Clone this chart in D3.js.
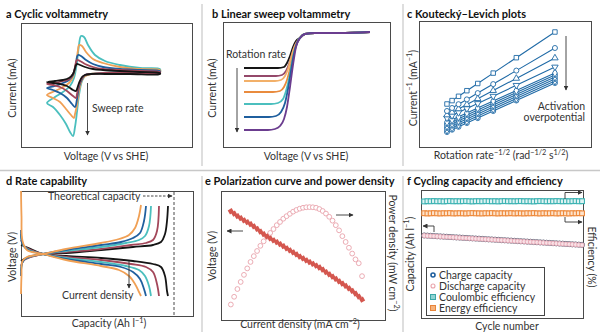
<!DOCTYPE html>
<html><head><meta charset="utf-8">
<script src="https://cdn.jsdelivr.net/npm/d3@7"></script>
<style>body{margin:0;background:#fff} text{font-family:Lato,"Open Sans",sans-serif}</style>
</head><body><svg id="c" width="600" height="336"></svg>
<script>
// ---------- DATA ----------
// a: cyclic voltammetry loops [voltage, current] (arbitrary units)
const cvTeal   = [[26,44],[34,50],[42,55],[49,61],[53,69],[56,85],[58,102],[60,111],[63,110],[67,102],[74,92],[84,86],[99,82],[119,79],[139,78],[139,76],[109,75],[84,74],[70,73],[64,71],[61,66],[58,52],[56,35],[54,20],[52,11],[49,15],[45,23],[39,32],[32,40]];
const cvOrange = [[26,52],[34,56],[42,60],[48,64],[52,70],[55,84],[57,97],[58,102],[61,101],[65,95],[72,88],[82,84],[99,80],[119,78],[139,77],[139,75],[109,75],[84,74],[70,73],[64,71],[61,67],[58,56],[56,42],[54,33],[53,29],[50,32],[45,38],[39,45],[32,49]];
const cvBlue   = [[26,59],[34,61],[42,64],[48,67],[52,72],[55,83],[56,90],[57,92],[60,91],[65,87],[72,83],[82,80],[99,78],[119,77],[139,76],[139,75],[109,75],[84,74],[70,73],[64,72],[61,68],[58,60],[56,48],[54,40],[51,43],[46,49],[39,54],[32,57]];
const cvMaroon = [[26,63],[34,64],[42,66],[48,68],[52,73],[54,80],[55,85],[56,87],[59,86],[64,83],[72,80],[82,78],[99,77],[119,76],[139,75],[139,74],[109,74],[84,74],[70,73],[64,72],[61,69],[58,62],[56,53],[55,49],[52,51],[46,56],[39,60],[32,62]];
const cvBlack  = [[26,65],[34,66],[42,67],[48,69],[52,73],[54,79],[55,82],[56,83],[59,82],[64,80],[72,78],[82,77],[99,76],[119,75],[139,74],[139,73],[109,73],[84,73],[70,73],[64,72],[61,70],[58,64],[56,58],[55,56],[52,57],[46,61],[39,63],[32,64]];

// b: linear sweep voltammetry [voltage, current]
const lsvBlack    = [[21,79],[55,79],[61,80],[64,84],[67,91],[70,100],[73,106],[77,109],[82,113],[92,114],[117,114],[147,115]];
const lsvMaroon   = [[21,71],[53,71],[59,72],[63,76],[66,83],[69,93],[72,102],[75,107],[77,109],[82,113],[92,114],[117,114],[147,115]];
const lsvLtOrange = [[21,66],[52,66],[58,67],[62,71],[65,78],[68,89],[71,99],[74,105],[77,109],[82,113],[92,114],[117,114],[147,115]];
const lsvOrange   = [[21,55],[50,55],[57,56],[61,60],[64,67],[67,78],[70,91],[73,102],[76,108],[82,113],[92,114],[117,114],[147,115]];
const lsvTeal     = [[21,43],[48,43],[55,44],[60,48],[63,56],[66,68],[69,84],[72,98],[75,106],[82,113],[92,114],[117,114],[147,115]];
const lsvBlue     = [[21,30],[46,30],[53,31],[58,35],[62,44],[65,58],[68,76],[71,93],[74,104],[77,109],[82,113],[92,114],[117,114],[147,115]];
const lsvPurple   = [[21,17],[45,17],[52,18],[57,21],[61,28],[64,40],[67,60],[70,82],[73,100],[77,109],[82,113],[92,114],[117,114],[147,115]];

// c: Koutecky-Levich
const klX = [0.0200,0.0222,0.0250,0.0286,0.0333,0.0400,0.0500,0.0667];
const kl1  = [43,46.4,50.7,56.3,63.5,73.9,89.3,115];
const kl2  = [36,39,42.8,47.6,53.9,62.9,76.4,99];
const kl3  = [32,34.7,38.1,42.5,48.3,56.4,68.6,89];
const kl4  = [29,31.4,34.5,38.4,43.5,50.8,61.7,80];
const kl5  = [25,27.3,30.2,34,38.9,46,56.5,74];
const kl6  = [23,25.3,28.2,32,36.9,44,54.5,72];
const kl7  = [21,23.3,26.2,30,34.9,42,52.5,70];
const kl8  = [19,21.3,24.2,28,32.9,40,50.5,68];
const kl9  = [17,19.3,22.2,26,30.9,38,48.5,66];
const kl10 = [15,17.3,20.2,24,28.9,36,46.5,64];

// d: rate capability [capacity, voltage]
const chBlack  = [[0,55],[5,58],[12,60],[22,62],[45,63],[80,66],[112,69],[132,71],[140,74],[144,82],[146,95],[147,110]];
const diBlack  = [[0,71],[5,69],[12,66],[22,62],[45,60],[80,58],[112,55],[132,52],[140,49],[144,40],[146,25],[147,20]];
const chMaroon = [[0,50],[3,56],[10,59],[22,62],[45,64],[80,67],[110,71],[125,73],[132,76],[136,85],[138,110]];
const diMaroon = [[0,76],[3,70],[10,66],[22,62],[45,59],[80,56],[110,52],[125,49],[132,44],[136,32],[138,20]];
const chTeal   = [[0,45],[2,55],[8,59],[22,62],[45,65],[80,69],[105,73],[118,76],[124,80],[128,90],[130,110]];
const diTeal   = [[0,82],[2,71],[8,66],[22,62],[45,58],[80,54],[105,50],[118,46],[124,40],[128,30],[130,20]];
const chBlue   = [[0,40],[1.5,54],[7,59],[22,62],[45,66],[80,71],[100,74],[112,78],[119,83],[123,95],[125,110]];
const diBlue   = [[0,86],[1.5,72],[7,66],[22,62],[45,57],[80,52],[100,49],[112,44],[119,37],[123,27],[125,20]];
const chOrange = [[0,22],[0.5,40],[1.5,55],[6,59],[22,62],[45,67],[80,73],[98,77],[108,81],[114,88],[118,100],[120,111]];
const diOrange = [[0,125],[0.5,100],[1.5,75],[6,66],[22,62],[45,56],[80,50],[98,46],[108,40],[114,32],[118,24],[120,20]];

// e: polarization & power density
const curDens = [6,8,10,12,14,16,18,20,22,24,26,28,30,32,34,36,38,40,42,44,46,48,50,52,54,56,58,60,62,64,66,68,70,72,74,76,78,80,82,84,86];
const voltE   = [84.3,82.4,80.6,78.9,77.3,75.8,74.3,72.6,70.6,68.5,66.6,64.9,63.3,61.8,60.3,58.8,57.2,55.6,54.0,52.4,50.8,49.2,47.7,46.3,44.9,43.5,42.1,40.7,39.0,37.2,35.4,33.6,31.8,30.0,28.2,26.4,24.6,22.6,20.5,18.2,15.8];
const powerE  = [12,18,24,29.5,35,40,45,49.5,53.5,57.5,61,64.5,67.5,70.5,73.5,76,78.5,80.5,82.3,84,85.3,86.3,87,87.4,87.5,87.4,87,86,84.5,82.5,80,77,73.5,69.5,65,60.5,56,51.5,47,44,34];

// f: cycling
const capCharge = [19.34,19.30,19.25,19.21,19.16,19.12,19.07,19.03,18.98,18.94,18.89,18.85,18.80,18.76,18.71,18.67,18.62,18.58,18.53,18.49,18.44,18.40,18.35,18.31,18.26,18.22,18.17,18.13,18.08,18.04,17.99,17.95,17.90,17.86,17.81,17.77,17.72,17.68,17.63,17.59,17.54,17.50,17.45,17.41,17.36,17.32,17.27,17.23,17.18,17.14];
const capDischarge = [19.30,19.26,19.21,19.17,19.12,19.08,19.03,18.99,18.94,18.90,18.85,18.81,18.76,18.72,18.67,18.63,18.58,18.54,18.49,18.45,18.40,18.36,18.31,18.27,18.22,18.18,18.13,18.09,18.04,18.00,17.95,17.91,17.86,17.82,17.77,17.73,17.68,17.64,17.59,17.55,17.50,17.46,17.41,17.37,17.32,17.28,17.23,17.19,17.14,17.10];
const coulEff = [98.8,99.0,98.9,99.1,98.9,99.0,98.8,99.0,99.1,98.9,99.0,98.9,99.0,99.1,98.9,98.8,99.0,99.0,98.9,99.1,99.0,98.9,99.0,98.8,99.0,99.1,98.9,99.0,98.9,99.0,99.1,98.9,99.0,98.9,98.8,99.0,99.1,99.0,98.9,99.0,98.9,99.1,99.0,98.9,99.0,98.9,99.0,99.1,98.9,99.0];
const energyEff = [88.8,88.6,88.7,88.9,88.7,88.6,88.8,88.7,88.9,88.6,88.7,88.8,88.7,88.6,88.8,88.9,88.7,88.7,88.6,88.8,88.7,88.9,88.7,88.6,88.8,88.7,88.7,88.9,88.6,88.8,88.7,88.6,88.8,88.7,88.9,88.7,88.6,88.8,88.7,88.7,88.9,88.6,88.7,88.8,88.7,88.6,88.8,88.7,88.9,88.7];
const legendLabels = ["Charge capacity","Discharge capacity","Coulombic efficiency","Energy efficiency"];

// ---------- DRAW ----------
const svg = d3.select('#c');
const C = {black:'#151515', maroon:'#a3475a', orange:'#f0a055', dorange:'#e98b3e', teal:'#4bbfbe', blue:'#1f5f9e', purple:'#6b3d8f', kl:'#1f6aa6', red:'#d4574f', pink:'#e9a3ab'};

const defs = svg.append('defs');
defs.append('marker').attr('id','ah').attr('viewBox','0 0 10 10').attr('refX',9).attr('refY',5)
  .attr('markerWidth',5).attr('markerHeight',5).attr('markerUnits','userSpaceOnUse').attr('orient','auto')
  .append('path').attr('d','M0,0L10,5L0,10z').attr('fill','#333');

// separators
svg.append('line').attr('x1',0).attr('x2',600).attr('y1',170.5).attr('y2',170.5).attr('stroke','#c8c8c8').attr('stroke-width',1.5);
[[202,4,166],[202,176,332],[403,4,166],[403,176,332]].forEach(l=>svg.append('line').attr('x1',l[0]).attr('x2',l[0]).attr('y1',l[1]).attr('y2',l[2]).attr('stroke','#c8c8c8').attr('stroke-width',1.2));

function frame(x0,y0,x1,y1){svg.append('rect').attr('x',x0+.5).attr('y',y0+.5).attr('width',x1-x0).attr('height',y1-y0).attr('fill','none').attr('stroke','#4a4a4a').attr('stroke-width',1);}
function rich(t,parts,fs){let sup=false;parts.forEach(p=>{const s=p[1]===1;const ts=t.append('tspan').text(p[0]);if(s){ts.attr('font-size',fs*0.7);if(!sup)ts.attr('dy',-fs*0.38);}else if(sup){ts.attr('dy',fs*0.38);}sup=s;});}
function title(x,y,str){svg.append('text').attr('x',x).attr('y',y).attr('font-size',11).attr('font-weight',700).attr('fill','#111').text(str);}
function xlab(cx,y,parts){const t=svg.append('text').attr('x',cx).attr('y',y).attr('text-anchor','middle').attr('font-size',10.5).attr('fill','#333');rich(t,parts,10.5);}
function ylab(cx,cy,parts,rot){const t=svg.append('text').attr('transform',`translate(${cx},${cy}) rotate(${rot||-90})`).attr('text-anchor','middle').attr('dominant-baseline','central').attr('font-size',10.5).attr('fill','#333');rich(t,parts,10.5);}
function note(x,y,str,anchor){svg.append('text').attr('x',x).attr('y',y).attr('text-anchor',anchor||'start').attr('dominant-baseline','central').attr('font-size',10.5).attr('fill','#333').text(str);}
function arrow(d,dash){svg.append('path').attr('d',d).attr('fill','none').attr('stroke','#333').attr('stroke-width',0.9).attr('stroke-dasharray',dash||null).attr('marker-end','url(#ah)');}

// ---- a ----
title(6,18,'a Cyclic voltammetry');
frame(21,23,192,147);
const xA=d3.scaleLinear([0,171],[21,192]), yA=d3.scaleLinear([0,124],[147,23]);
const lineA=d3.line().x(d=>xA(d[0])).y(d=>yA(d[1])).curve(d3.curveCatmullRomClosed.alpha(0.5));
[[cvTeal,C.teal],[cvOrange,C.orange],[cvBlue,C.blue],[cvMaroon,C.maroon],[cvBlack,C.black]].forEach(([d,c])=>
  svg.append('path').attr('d',lineA(d)).attr('fill','none').attr('stroke',c).attr('stroke-width',1.8));
arrow(`M${xA(66.5)},${yA(64)}V${yA(12)}`);
note(xA(71),108,'Sweep rate');
xlab(106,160,[['Voltage (V vs SHE)']]);
ylab(12,88,[['Current (mA)']]);

// ---- b ----
title(212,18,'b Linear sweep voltammetry');
frame(223,22,390,147);
const xB=d3.scaleLinear([0,167],[223,390]), yB=d3.scaleLinear([0,125],[147,22]);
const lineB=d3.line().x(d=>xB(d[0])).y(d=>yB(d[1])).curve(d3.curveMonotoneX);
[[lsvBlack,C.black],[lsvMaroon,'#94486a'],[lsvLtOrange,'#f2b069'],[lsvOrange,C.dorange],[lsvTeal,C.teal],[lsvBlue,C.blue],[lsvPurple,C.purple]].forEach(([d,c])=>
  svg.append('path').attr('d',lineB(d)).attr('fill','none').attr('stroke',c).attr('stroke-width',1.8));
note(226,54,'Rotation rate');
arrow(`M237,${yB(79)}V${yB(15)}`);
xlab(306,160,[['Voltage (V vs SHE)']]);
ylab(212,88,[['Current (mA)']]);

// ---- c ----
title(407,18,'c Koutecký–Levich plots');
frame(419,21,591,147);
const xC=d3.scaleLinear([0.0079,0.0823],[419,591]), yC=d3.scaleLinear([0,126],[147,21]);
const lineC=d3.line().x((d,i)=>xC(klX[i])).y(d=>yC(d));
const klSeries=[kl10,kl9,kl8,kl7,kl6,kl5,kl4,kl3,kl2,kl1];
const klSym=[d3.symbolCircle,d3.symbolDiamond,d3.symbolCircle,d3.symbolDiamond,d3.symbolCircle,d3.symbolDiamond,'tdown',d3.symbolTriangle,d3.symbolCircle,d3.symbolSquare];
klSeries.forEach((s,k)=>{
  svg.append('path').attr('d',lineC(s)).attr('fill','none').attr('stroke',C.kl).attr('stroke-width',1.1);
  const sym=klSym[k]; const sh = sym==='tdown'?d3.symbolTriangle:sym;
  svg.append('g').selectAll('path').data(s).join('path')
    .attr('d',d3.symbol().type(sh).size(sh===d3.symbolTriangle?18:20))
    .attr('transform',(d,i)=>`translate(${xC(klX[i])},${yC(d)})${sym==='tdown'?' rotate(180)':''}`)
    .attr('fill','#fff').attr('stroke',C.kl).attr('stroke-width',0.9);
});
arrow(`M566,36V90`);
note(585,106,'Activation','end');
note(585,117,'overpotential','end');
xlab(501,159,[['Rotation rate'],['−1/2',1],[' (rad'],['−1/2',1],[' s'],['1/2',1],[')']]);
ylab(413,88,[['Current'],['−1',1],[' (mA'],['−1',1],[')']]);

// ---- d ----
title(6,185,'d Rate capability');
frame(21,191,193,316);
const xD=d3.scaleLinear([0,172],[21,193]), yD=d3.scaleLinear([0,125],[316,191]);
const lineD=d3.line().x(d=>xD(d[0])).y(d=>yD(d[1])).curve(d3.curveCatmullRom.alpha(0.5));
[[chBlack,diBlack,C.black],[chMaroon,diMaroon,C.maroon],[chTeal,diTeal,C.teal],[chBlue,diBlue,C.blue],[chOrange,diOrange,C.orange]].forEach(([a,b,c])=>{
  svg.append('path').attr('d',lineD(a)).attr('fill','none').attr('stroke',c).attr('stroke-width',1.8);
  svg.append('path').attr('d',lineD(b)).attr('fill','none').attr('stroke',c).attr('stroke-width',1.8);
});
svg.append('line').attr('x1',174).attr('x2',174).attr('y1',192).attr('y2',316).attr('stroke','#333').attr('stroke-width',0.9).attr('stroke-dasharray','3,2');
note(48,196,'Theoretical capacity');
arrow('M143,196H172','2.5,1.5');
arrow(`M129,261V288`);
note(62,295,'Current density');
xlab(109,327,[['Capacity (Ah l'],['−1',1],[')']]);
ylab(12,257,[['Voltage (V)']]);

// ---- e ----
title(205,185,'e Polarization curve and power density');
frame(221,191,385,320);
const xE=d3.scaleLinear([0,100],[221,385]), yEv=d3.scaleLinear([0,100],[320,191]), yEp=d3.scaleLinear([0,100],[320,191]);
svg.append('g').selectAll('circle').data(powerE).join('circle')
  .attr('cx',(d,i)=>xE(curDens[i])).attr('cy',d=>yEp(d)).attr('r',2.4)
  .attr('fill','#fff').attr('stroke',C.pink).attr('stroke-width',0.9);
svg.append('g').selectAll('path').data(voltE).join('path')
  .attr('d',d3.symbol().type(d3.symbolSquare).size(21))
  .attr('transform',(d,i)=>`translate(${xE(curDens[i])},${yEv(d)}) rotate(-30)`).attr('fill',C.red);
arrow('M243,231H227');
arrow('M336,215H353');
xlab(300,328,[['Current density (mA cm'],['−2',1],[')']]);
ylab(212,256,[['Voltage (V)']]);
ylab(393,253,[['Power density (mW cm'],['−2',1],[')']],90);

// ---- f ----
title(407,185,'f Cycling capacity and efficiency');
frame(421,190,583,318);
const xF=d3.scaleLinear([0,50.3],[421,583]);
const yCap=d3.scaleLinear([0,30],[318,190]), yEff=d3.scaleLinear([0,100],[318,200]);
function sqRow(vals,scale,fill,stroke){
  svg.append('g').selectAll('rect').data(vals).join('rect')
   .attr('x',(d,i)=>xF(i+1)-2.4).attr('y',d=>scale(d)-2.4).attr('width',4.8).attr('height',4.8)
   .attr('fill',fill).attr('stroke',stroke).attr('stroke-width',1.1);
}
sqRow(coulEff,yEff,'#dff3f3','#3db3b3');
sqRow(energyEff,yEff,'#fde3cc','#ee8a3c');
svg.append('g').selectAll('circle').data(capCharge).join('circle')
  .attr('cx',(d,i)=>xF(i+1)).attr('cy',d=>yCap(d)).attr('r',2.6).attr('fill','#fff').attr('stroke','#4a4f66').attr('stroke-width',0.8);
svg.append('g').selectAll('circle.d').data(capDischarge).join('circle')
  .attr('cx',(d,i)=>xF(i+1)).attr('cy',d=>yCap(d)).attr('r',2.1).attr('fill','#f8e1e6').attr('stroke','#e6a7b4').attr('stroke-width',0.9);
arrow('M565,199V192.5H582');
arrow('M565,217V222H582');
arrow('M434,232V226H423');
// legend
svg.append('rect').attr('x',426.5).attr('y',267.5).attr('width',118).attr('height',48).attr('fill','#fff').attr('stroke','#444').attr('stroke-width',1);
const lg=[275,286,297,308];
svg.append('circle').attr('cx',433).attr('cy',lg[0]).attr('r',2).attr('fill','#fff').attr('stroke',C.blue).attr('stroke-width',1.6);
svg.append('circle').attr('cx',433).attr('cy',lg[1]).attr('r',2).attr('fill','#fff').attr('stroke',C.pink).attr('stroke-width',1.1);
svg.append('rect').attr('x',430.5).attr('y',lg[2]-2.5).attr('width',5).attr('height',5).attr('fill','#8fd3d3').attr('stroke','#3aa8a8').attr('stroke-width',1);
svg.append('rect').attr('x',430.5).attr('y',lg[3]-2.5).attr('width',5).attr('height',5).attr('fill','#f6b27c').attr('stroke','#e8843a').attr('stroke-width',1);
legendLabels.forEach((t,i)=>note(439,lg[i],t));
xlab(507,330,[['Cycle number']]);
ylab(410,254,[['Capacity (Ah l'],['−1',1],[')']]);
ylab(592,257,[['Efficiency (%)']],90);
</script></body></html>
